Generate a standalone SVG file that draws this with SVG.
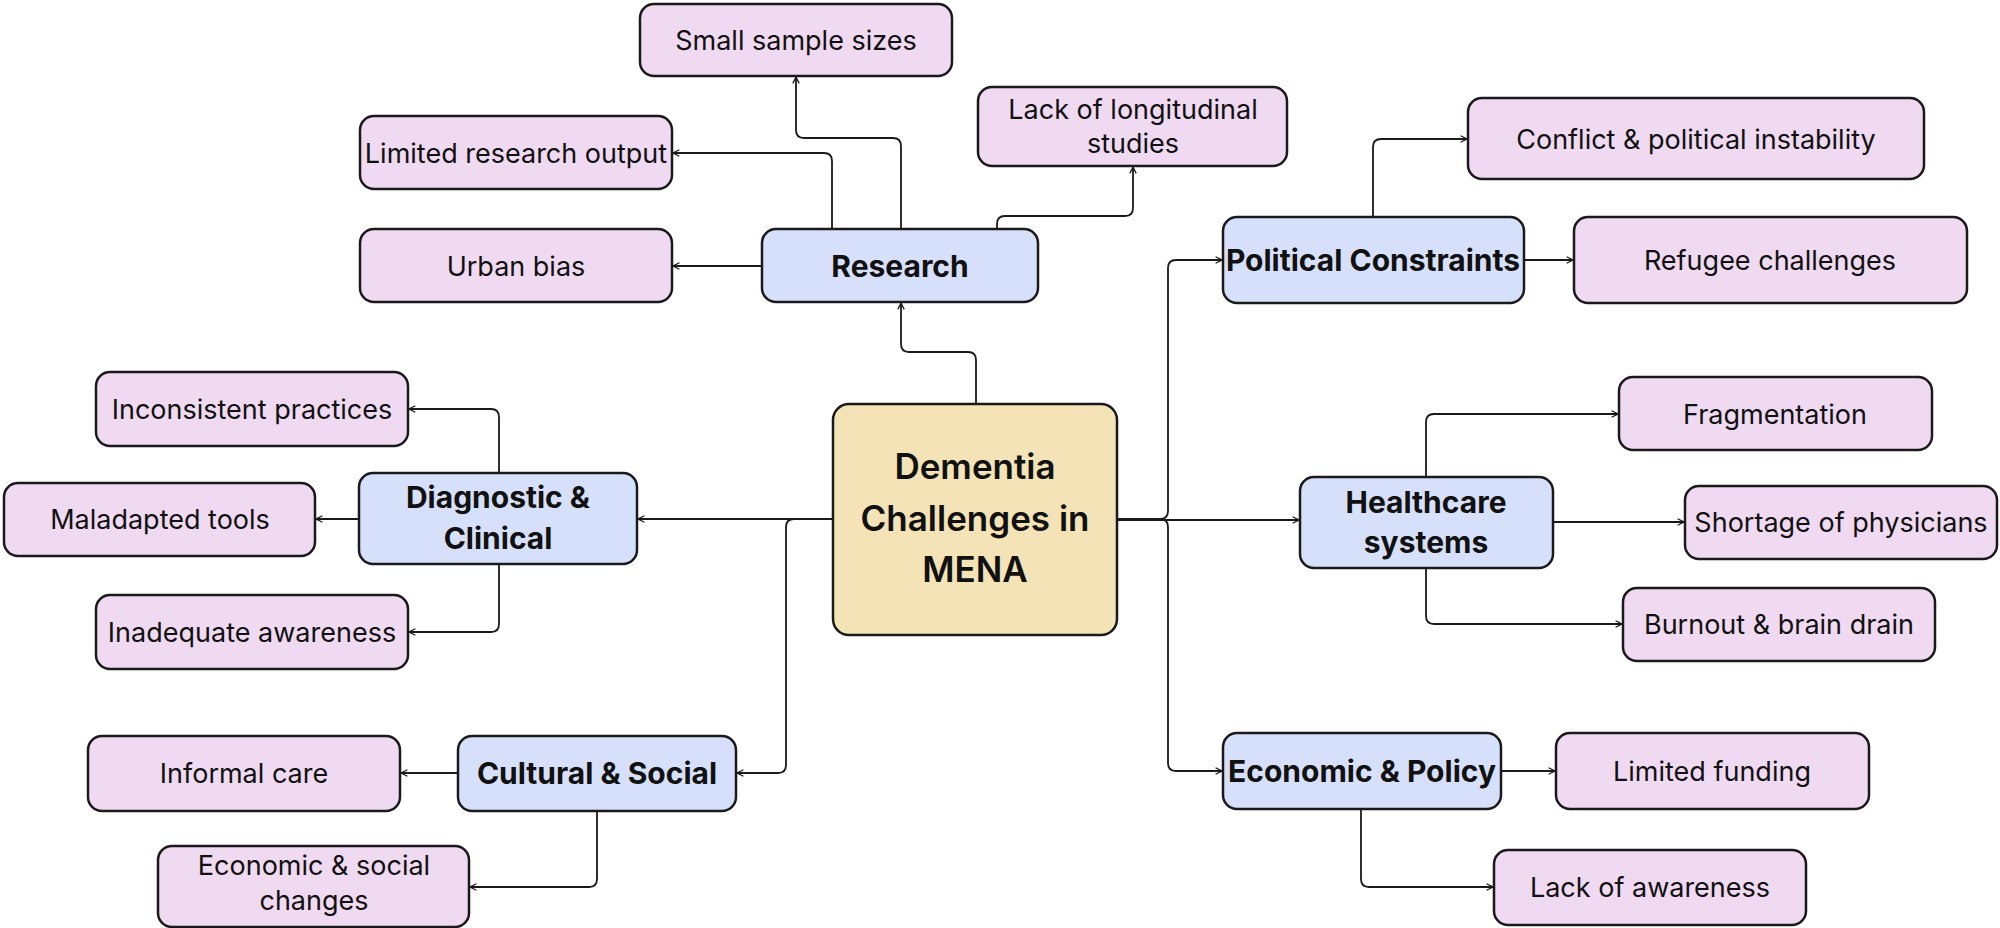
<svg xmlns="http://www.w3.org/2000/svg" width="2000" height="928" viewBox="0 0 2000 928">
<style>
.leaf{fill:#F0DAF1;stroke:#1a1a1a;stroke-width:2.5}
.cat{fill:#D7E0FB;stroke:#1a1a1a;stroke-width:2.5}
.ctr{fill:#F3E3B7;stroke:#1a1a1a;stroke-width:2.5}
.t{font-family:Inter,"Liberation Sans",sans-serif;font-size:27px;fill:#111;text-anchor:middle}
.b{font-family:Inter,"Liberation Sans",sans-serif;font-size:30px;font-weight:700;fill:#111;text-anchor:middle}
.c{font-family:Inter,"Liberation Sans",sans-serif;font-size:35px;font-weight:600;fill:#111;text-anchor:middle}
.e{fill:none;stroke:#1a1a1a;stroke-width:1.8}
</style>
<defs>
<marker id="a" viewBox="0 0 10 10" refX="9" refY="5" markerWidth="8" markerHeight="8" markerUnits="userSpaceOnUse" orient="auto">
<path d="M1,1 L9,5 L1,9" fill="none" stroke="#1a1a1a" stroke-width="1.6"/>
</marker>
</defs>
<rect width="2000" height="928" fill="#ffffff"/>
<g id="connectors">
<path class="e" marker-end="url(#a)" d="M976 404 V360 Q976 352 968 352 H909 Q901 352 901 344 V303"/>
<path class="e" marker-end="url(#a)" d="M901 229 V146 Q901 138 893 138 H804 Q796 138 796 130 V77"/>
<path class="e" marker-end="url(#a)" d="M832 229 V161 Q832 153 824 153 H673"/>
<path class="e" marker-end="url(#a)" d="M762 266 H673"/>
<path class="e" marker-end="url(#a)" d="M997 229 V224 Q997 216 1005 216 H1125 Q1133 216 1133 208 V167"/>
<path class="e" marker-end="url(#a)" d="M1117 519 H1160 Q1168 519 1168 511 V268 Q1168 260 1176 260 H1222"/>
<path class="e" marker-end="url(#a)" d="M1373 217 V147 Q1373 139 1381 139 H1467"/>
<path class="e" marker-end="url(#a)" d="M1524 260 H1573"/>
<path class="e" marker-end="url(#a)" d="M1117 520 H1299"/>
<path class="e" marker-end="url(#a)" d="M1426 477 V422 Q1426 414 1434 414 H1618"/>
<path class="e" marker-end="url(#a)" d="M1553 522 H1684"/>
<path class="e" marker-end="url(#a)" d="M1426 568 V616 Q1426 624 1434 624 H1622"/>
<path class="e" marker-end="url(#a)" d="M1117 519 H1160 Q1168 519 1168 527 V763 Q1168 771 1176 771 H1222"/>
<path class="e" marker-end="url(#a)" d="M1501 771 H1555"/>
<path class="e" marker-end="url(#a)" d="M1361 809 V879 Q1361 887 1369 887 H1493"/>
<path class="e" marker-end="url(#a)" d="M833 519 H638"/>
<path class="e" marker-end="url(#a)" d="M499 473 V417 Q499 409 491 409 H409"/>
<path class="e" marker-end="url(#a)" d="M359 519 H316"/>
<path class="e" marker-end="url(#a)" d="M499 564 V624 Q499 632 491 632 H409"/>
<path class="e" marker-end="url(#a)" d="M833 519 H794 Q786 519 786 527 V765 Q786 773 778 773 H737"/>
<path class="e" marker-end="url(#a)" d="M458 773 H401"/>
<path class="e" marker-end="url(#a)" d="M597 811 V879 Q597 887 589 887 H470"/>
</g>
<g id="center"><rect class="ctr" x="833" y="404" width="284" height="231" rx="16"/>
<text class="c" x="975" y="479">Dementia</text><text class="c" x="975" y="531">Challenges in</text><text class="c" x="975" y="582">MENA</text></g>
<g id="research"><rect class="cat" x="762" y="229" width="276" height="73" rx="14"/><text class="b" x="900" y="277">Research</text></g>
<g id="small-sample"><rect class="leaf" x="640" y="4" width="312" height="72" rx="14"/><text class="t" x="796" y="50">Small sample sizes</text></g>
<g id="lack-longitudinal"><rect class="leaf" x="978" y="87" width="309" height="79" rx="14"/><text class="t" x="1133" y="119">Lack of longitudinal</text><text class="t" x="1133" y="153">studies</text></g>
<g id="limited-research"><rect class="leaf" x="360" y="116" width="312" height="73" rx="14"/><text class="t" x="516" y="163">Limited research output</text></g>
<g id="urban-bias"><rect class="leaf" x="360" y="229" width="312" height="73" rx="14"/><text class="t" x="516" y="276">Urban bias</text></g>
<g id="political"><rect class="cat" x="1223" y="217" width="301" height="86" rx="14"/><text class="b" x="1373" y="271">Political Constraints</text></g>
<g id="conflict"><rect class="leaf" x="1468" y="98" width="456" height="81" rx="14"/><text class="t" x="1696" y="149">Conflict &amp; political instability</text></g>
<g id="refugee"><rect class="leaf" x="1574" y="217" width="393" height="86" rx="14"/><text class="t" x="1770" y="270">Refugee challenges</text></g>
<g id="healthcare"><rect class="cat" x="1300" y="477" width="253" height="91" rx="14"/><text class="b" x="1426" y="513">Healthcare</text><text class="b" x="1426" y="553">systems</text></g>
<g id="fragmentation"><rect class="leaf" x="1619" y="377" width="313" height="73" rx="14"/><text class="t" x="1775" y="424">Fragmentation</text></g>
<g id="shortage"><rect class="leaf" x="1685" y="486" width="312" height="73" rx="14"/><text class="t" x="1841" y="532">Shortage of physicians</text></g>
<g id="burnout"><rect class="leaf" x="1623" y="588" width="312" height="73" rx="14"/><text class="t" x="1779" y="634">Burnout &amp; brain drain</text></g>
<g id="economic-policy"><rect class="cat" x="1223" y="733" width="278" height="76" rx="14"/><text class="b" x="1362" y="782">Economic &amp; Policy</text></g>
<g id="limited-funding"><rect class="leaf" x="1556" y="733" width="313" height="76" rx="14"/><text class="t" x="1712" y="781">Limited funding</text></g>
<g id="lack-awareness"><rect class="leaf" x="1494" y="850" width="312" height="75" rx="14"/><text class="t" x="1650" y="897">Lack of awareness</text></g>
<g id="diagnostic"><rect class="cat" x="359" y="473" width="278" height="91" rx="14"/><text class="b" x="498" y="508">Diagnostic &amp;</text><text class="b" x="498" y="549">Clinical</text></g>
<g id="inconsistent"><rect class="leaf" x="96" y="372" width="312" height="74" rx="14"/><text class="t" x="252" y="419">Inconsistent practices</text></g>
<g id="maladapted"><rect class="leaf" x="4" y="483" width="311" height="73" rx="14"/><text class="t" x="160" y="529">Maladapted tools</text></g>
<g id="inadequate"><rect class="leaf" x="96" y="595" width="312" height="74" rx="14"/><text class="t" x="252" y="642">Inadequate awareness</text></g>
<g id="cultural"><rect class="cat" x="458" y="736" width="278" height="75" rx="14"/><text class="b" x="597" y="784">Cultural &amp; Social</text></g>
<g id="informal-care"><rect class="leaf" x="88" y="736" width="312" height="75" rx="14"/><text class="t" x="244" y="783">Informal care</text></g>
<g id="econ-social"><rect class="leaf" x="158" y="846" width="311" height="81" rx="14"/><text class="t" x="314" y="875">Economic &amp; social</text><text class="t" x="314" y="910">changes</text></g>
</svg>
